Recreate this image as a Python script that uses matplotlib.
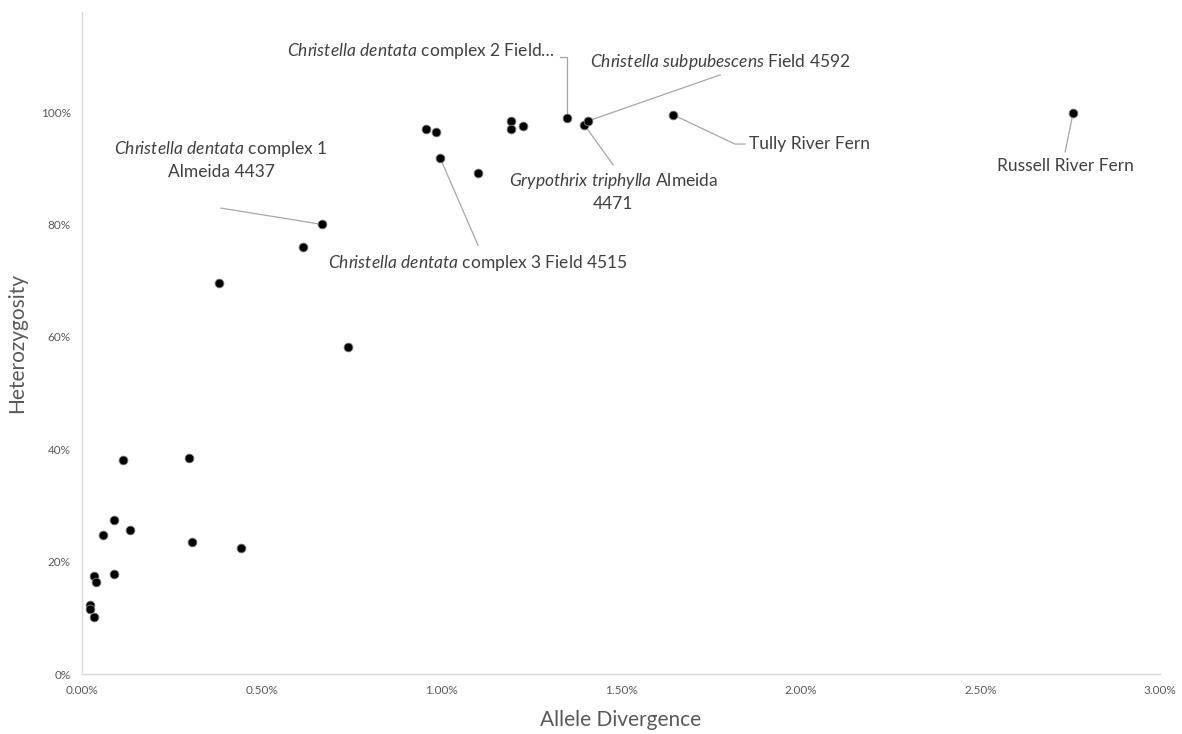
import matplotlib
matplotlib.use('Agg')
import matplotlib.pyplot as plt
from matplotlib.ticker import PercentFormatter, MultipleLocator

plt.rcParams['font.family'] = 'Lato'
plt.rcParams['mathtext.fontset'] = 'custom'
plt.rcParams['mathtext.rm'] = 'Lato'
plt.rcParams['mathtext.it'] = 'Lato:italic'

# allele divergence (%) and heterozygosity (%) per sample
divergence = [0.113, 0.298, 0.090, 0.134, 0.058, 0.306, 0.442, 0.033, 0.039, 0.088,
              0.023, 0.022, 0.033, 0.668, 0.615, 0.382, 0.741, 0.958, 0.986, 0.996,
              1.101, 1.194, 1.195, 1.228, 1.351, 1.398, 1.408, 1.645, 2.758]
heterozygosity = [38.0, 38.5, 27.4, 25.7, 24.7, 23.5, 22.5, 17.4, 16.3, 17.8,
                  12.3, 11.5, 10.2, 80.0, 75.9, 69.6, 58.1, 97.0, 96.4, 91.9,
                  89.1, 98.4, 97.0, 97.5, 98.9, 97.7, 98.4, 99.5, 99.8]

# labelled samples: index into the arrays above
labels = {
    13: r'$\mathit{Christella\ dentata}$ complex 1' + '\nAlmeida 4437',
    19: r'$\mathit{Christella\ dentata}$ complex $\mathit{3}$ Field 4515',
    24: r'$\mathit{Christella\ dentata}$ complex 2 Field…',
    26: r'$\mathit{Christella\ subpubescens}$ Field 4592',
    25: r'$\mathit{Grypothrix\ triphylla}$ Almeida' + '\n4471',
    27: 'Tully River Fern',
    28: 'Russell River Fern',
}
# text anchor (x, y, ha) and leader line path ending at the point
label_pos = {
    13: (0.387, 91.5, 'center'),
    19: (1.102, 73.1, 'center'),
    24: (1.316, 110.8, 'right'),
    26: (1.776, 108.9, 'center'),
    25: (1.478, 85.8, 'center'),
    27: (1.856, 94.3, 'left'),
    28: (2.736, 90.4, 'center'),
}
leader = {
    13: [(0.387, 82.9)],
    19: [(1.102, 76.3)],
    24: [(1.330, 109.8), (1.351, 109.8)],
    26: [(1.776, 106.6)],
    25: [(1.478, 90.6)],
    27: [(1.845, 94.3), (1.817, 94.3)],
    28: [(2.736, 92.9)],
}

fig = plt.figure(figsize=(11.82, 7.34), dpi=100)
ax = fig.add_axes([0.0694, 0.0817, 0.9120, 0.902])

for i, path in leader.items():
    xs = [p[0] for p in path] + [divergence[i]]
    ys = [p[1] for p in path] + [heterozygosity[i]]
    ax.plot(xs, ys, color='#a6a6a6', lw=0.9, zorder=1)

ax.scatter(divergence, heterozygosity, s=40, color='black',
           edgecolors='#7f7f7f', linewidths=0.6, zorder=3)

for i, txt in labels.items():
    x, y, ha = label_pos[i]
    ax.text(x, y, txt, ha=ha, va='center', ma='center', fontsize=12.5,
            color='#404040', linespacing=1.4)

ax.set_xlim(0, 3.0)
ax.set_ylim(0, 117.8)
ax.xaxis.set_major_locator(MultipleLocator(0.5))
ax.set_yticks([0, 20, 40, 60, 80, 100])
ax.xaxis.set_major_formatter(PercentFormatter(xmax=100, decimals=2))
ax.yaxis.set_major_formatter(PercentFormatter(xmax=100, decimals=0))
ax.tick_params(length=0, labelsize=8.5, colors='#595959', pad=8)

for s in ['top', 'right']:
    ax.spines[s].set_visible(False)
for s in ['left', 'bottom']:
    ax.spines[s].set_color('#d9d9d9')
    ax.spines[s].set_linewidth(1)

ax.set_xlabel('Allele Divergence', fontsize=15, color='#595959', labelpad=10)
ax.set_ylabel('Heterozygosity', fontsize=15, color='#595959', labelpad=10)

fig.savefig('out.png', dpi=100)
